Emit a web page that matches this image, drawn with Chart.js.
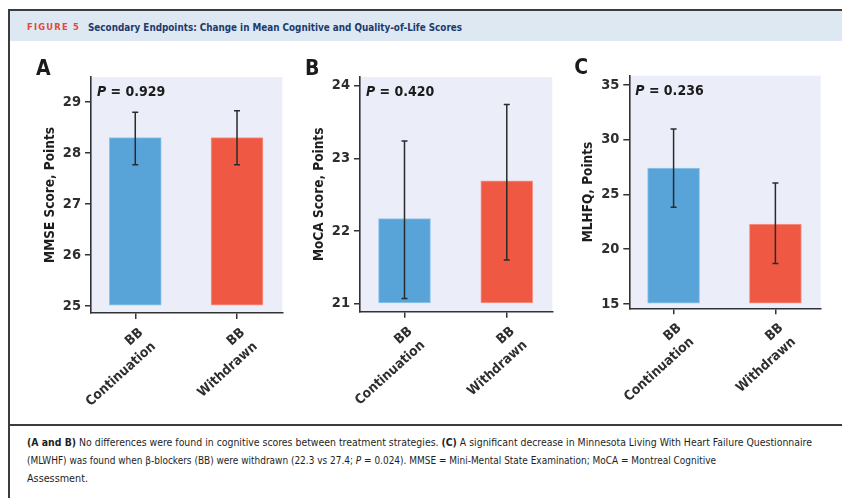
<!DOCTYPE html>
<html>
<head>
<meta charset="utf-8">
<script src="https://cdn.jsdelivr.net/npm/chart.js@4.4.1/dist/chart.umd.min.js"></script>
<style>
  html, body { margin: 0; padding: 0; background: #fff; }
  body {
    width: 842px; height: 498px; position: relative; overflow: hidden;
    font-family: 'Liberation Sans Narrow', 'DejaVu Sans Condensed', Roboto, sans-serif;
  }
  .rule { position: absolute; background: #3c3c3c; }
  .header { position: absolute; left: 10px; top: 11px; width: 832px; height: 30px; background: #dde8f3; }
  .fit { position: absolute; white-space: nowrap; transform-origin: 0 50%; }
  .fig-no { color: #e2493b; font-weight: bold; font-size: 9px; letter-spacing: 1.2px; line-height: 12px; }
  .fig-title { color: #1d3a6b; font-weight: bold; font-size: 10.5px; line-height: 12px; }
  .caption { color: #1e1e1e; font-size: 10px; line-height: 12px; }
  .panel { position: absolute; top: 45px; }
</style>
</head>
<body>
  <div class="rule" style="left:8px;top:9px;width:2px;height:489px;"></div>
  <div class="rule" style="left:8px;top:9px;width:834px;height:2px;"></div>
  <div class="header"></div>
  <div class="fit fig-no" data-w="53" style="left:27px;top:21px;">FIGURE 5</div>
  <div class="fit fig-title" data-w="374" style="left:88px;top:21px;">Secondary Endpoints: Change in Mean Cognitive and Quality-of-Life Scores</div>

  <canvas id="chartA" class="panel" width="275" height="375" style="left:20px;"></canvas>
  <canvas id="chartB" class="panel" width="275" height="375" style="left:289px;"></canvas>
  <canvas id="chartC" class="panel" width="275" height="375" style="left:558px;"></canvas>

  <div class="rule" style="left:8px;top:424px;width:834px;height:2px;"></div>
  <div class="fit caption" data-w="785" style="left:27px;top:437px;"><b>(A and B)</b> No differences were found in cognitive scores between treatment strategies. <b>(C)</b> A significant decrease in Minnesota Living With Heart Failure Questionnaire</div>
  <div class="fit caption" data-w="689" style="left:27px;top:455px;">(MLWHF) was found when β-blockers (BB) were withdrawn (22.3 vs 27.4; <i>P</i> = 0.024). MMSE = Mini-Mental State Examination; MoCA = Montreal Cognitive</div>
  <div class="fit caption" data-w="61" style="left:27px;top:473px;">Assessment.</div>

<script>
// Treatment groups shown on every panel
const groups = [['BB', 'Continuation'], ['BB', 'Withdrawn']];
const groupColors = ['#58a4d8', '#ef5944'];
const groupEdges = ['#93c6e8', '#f6998b'];

// Panel A: MMSE
const mmseMean = [28.3, 28.3];
const mmseLow = [27.77, 27.77];
const mmseHigh = [28.8, 28.83];
const mmseTicks = [25, 26, 27, 28, 29];

// Panel B: MoCA
const mocaMean = [22.17, 22.69];
const mocaLow = [21.07, 21.6];
const mocaHigh = [23.24, 23.74];
const mocaTicks = [21, 22, 23, 24];

// Panel C: MLHFQ
const mlhfqMean = [27.4, 22.3];
const mlhfqLow = [23.83, 18.7];
const mlhfqHigh = [30.98, 26.04];
const mlhfqTicks = [15, 20, 25, 30, 35];

const FONT = "'Liberation Sans Narrow', 'DejaVu Sans Condensed', Roboto, sans-serif";
Chart.defaults.font.family = FONT;
Chart.defaults.color = '#2e2e2e';

// Plot background, error bars, panel letter and P value
const panelDecor = {
  id: 'panelDecor',
  beforeDraw(chart) {
    const { ctx, chartArea: a } = chart;
    ctx.save();
    ctx.fillStyle = '#ebeef9';
    ctx.fillRect(a.left, a.top, a.right - a.left, a.bottom - a.top);
    ctx.restore();
  },
  afterDatasetsDraw(chart, args, opts) {
    const { ctx, chartArea: a, scales: { x, y } } = chart;
    ctx.save();
    ctx.strokeStyle = '#2b2b2b';
    ctx.lineWidth = 1.5;
    opts.low.forEach((lo, i) => {
      const px = x.getPixelForValue(i);
      const y1 = y.getPixelForValue(lo);
      const y2 = y.getPixelForValue(opts.high[i]);
      ctx.beginPath();
      ctx.moveTo(px, y1); ctx.lineTo(px, y2);
      ctx.moveTo(px - 3, y1); ctx.lineTo(px + 3, y1);
      ctx.moveTo(px - 3, y2); ctx.lineTo(px + 3, y2);
      ctx.stroke();
    });
    ctx.fillStyle = '#1b1b1b';
    ctx.textBaseline = 'alphabetic';
    ctx.font = 'bold 21px ' + FONT;
    ctx.fillText(opts.letter, a.left - 55, a.top - 2);
    ctx.font = 'italic bold 14px ' + FONT;
    const px0 = a.left + 6, py = a.top + 19;
    ctx.fillText('P', px0, py);
    const w = ctx.measureText('P').width;
    ctx.font = 'bold 14px ' + FONT;
    ctx.fillText(' = ' + opts.p, px0 + w, py);
    ctx.restore();
  }
};

function makePanel(id, cfg) {
  return new Chart(document.getElementById(id), {
    type: 'bar',
    data: {
      datasets: [{
        data: cfg.mean.map((v, i) => ({ x: i, y: v })),
        base: cfg.base,
        backgroundColor: groupColors,
        borderColor: groupEdges,
        borderWidth: 1,
        borderSkipped: false,
        barThickness: 52
      }]
    },
    plugins: [panelDecor],
    options: {
      responsive: false,
      animation: false,
      devicePixelRatio: 1,
      layout: { padding: { top: cfg.padTop, right: cfg.padRight, left: 0, bottom: 0 } },
      plugins: {
        legend: { display: false },
        tooltip: { enabled: false },
        panelDecor: { low: cfg.low, high: cfg.high, letter: cfg.letter, p: cfg.p }
      },
      scales: {
        x: {
          type: 'linear',
          offset: false,
          min: -0.435,
          max: 1.445,
          afterBuildTicks: s => { s.ticks = groups.map((g, i) => ({ value: i })); },
          afterFit: s => { s.height = cfg.xHeight; },
          border: { display: true, color: '#333', width: 1.6 },
          grid: { display: true, offset: false, drawOnChartArea: false, drawTicks: true, tickLength: 6, color: '#333', lineWidth: 1.5 },
          ticks: {
            autoSkip: false,
            minRotation: 42,
            maxRotation: 42,
            padding: 5,
            labelOffset: 6,
            color: '#2e2e2e',
            font: { size: 13.5, weight: 'bold', lineHeight: 1.38 },
            callback: v => groups[v]
          }
        },
        y: {
          min: cfg.min,
          max: cfg.max,
          afterBuildTicks: s => { s.ticks = cfg.ticks.map(v => ({ value: v })); },
          afterFit: s => { s.width = cfg.yWidth; },
          border: { display: true, color: '#333', width: 1.6 },
          grid: { display: true, drawOnChartArea: false, drawTicks: true, tickLength: 6, color: '#333', lineWidth: 1.5 },
          ticks: { padding: 4, color: '#2e2e2e', font: { size: 14.5, weight: 'bold' } },
          title: {
            display: true,
            text: cfg.title,
            color: '#1e1e1e',
            font: { size: 13.5, weight: 'bold' },
            padding: { top: 22, bottom: 0 }
          }
        }
      }
    }
  });
}

function fitText() {
  document.querySelectorAll('.fit').forEach(el => {
    el.style.transform = 'none';
    const w = el.getBoundingClientRect().width;
    const target = parseFloat(el.dataset.w);
    if (w > 0) el.style.transform = 'scaleX(' + (target / w) + ')';
  });
}

function build() {
  fitText();
  makePanel('chartA', {
    mean: mmseMean, low: mmseLow, high: mmseHigh, ticks: mmseTicks,
    base: 25, min: 24.86, max: 29.49, letter: 'A', p: '0.929',
    title: 'MMSE Score, Points',
    yWidth: 71, xHeight: 107, padTop: 32, padRight: 12.7
  });
  makePanel('chartB', {
    mean: mocaMean, low: mocaLow, high: mocaHigh, ticks: mocaTicks,
    base: 21, min: 20.89, max: 24.12, letter: 'B', p: '0.420',
    title: 'MoCA Score, Points',
    yWidth: 71, xHeight: 108.3, padTop: 32, padRight: 11.7
  });
  makePanel('chartC', {
    mean: mlhfqMean, low: mlhfqLow, high: mlhfqHigh, ticks: mlhfqTicks,
    base: 15, min: 14.6, max: 35.85, letter: 'C', p: '0.236',
    title: 'MLHFQ, Points',
    yWidth: 71.3, xHeight: 111.7, padTop: 30.7, padRight: 12.3
  });
}

if (document.fonts && document.fonts.ready) {
  document.fonts.ready.then(build);
} else {
  build();
}
</script>
</body>
</html>
